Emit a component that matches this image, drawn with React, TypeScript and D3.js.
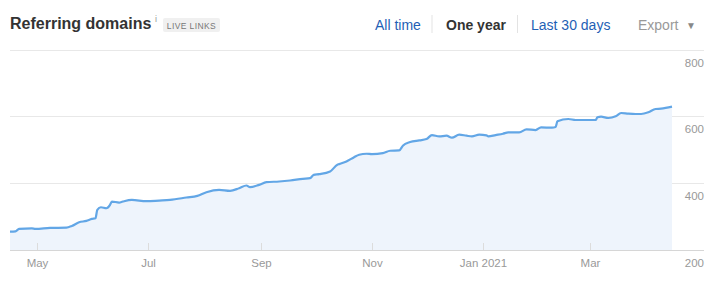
import React from "react";
import * as d3 from "d3";

const dates: string[] = [
  "2020-04-16","2020-04-19","2020-04-21","2020-04-28","2020-04-30","2020-05-08","2020-05-17","2020-05-20",
  "2020-05-24","2020-05-28","2020-05-31","2020-06-02","2020-06-03","2020-06-05","2020-06-08","2020-06-10",
  "2020-06-11","2020-06-15","2020-06-17","2020-06-22","2020-06-30","2020-07-07","2020-07-13","2020-07-22",
  "2020-07-28","2020-08-02","2020-08-09","2020-08-15","2020-08-20","2020-08-24","2020-08-26","2020-08-31",
  "2020-09-04","2020-09-11","2020-09-17","2020-09-24","2020-09-28","2020-09-30","2020-10-03","2020-10-09",
  "2020-10-13","2020-10-14","2020-10-18","2020-10-22","2020-10-25","2020-10-29","2020-11-01","2020-11-07",
  "2020-11-11","2020-11-16","2020-11-18","2020-11-22","2020-11-27","2020-12-01","2020-12-04","2020-12-08",
  "2020-12-12","2020-12-15","2020-12-19","2020-12-23","2020-12-26","2020-12-30","2021-01-03","2021-01-04",
  "2021-01-08","2021-01-12","2021-01-15","2021-01-21","2021-01-25","2021-01-30","2021-02-02","2021-02-08",
  "2021-02-10","2021-02-11","2021-02-17","2021-02-21","2021-02-28","2021-03-04","2021-03-05","2021-03-07",
  "2021-03-11","2021-03-15","2021-03-18","2021-03-22","2021-03-26","2021-03-29","2021-04-02","2021-04-06",
  "2021-04-09","2021-04-15",
];
const domains: number[] = [
  255,256,263,265,263,266,267,272,
  283,287,293,295,320,328,325,335,
  345,342,345,350,346,348,350,357,
  362,373,380,377,385,393,388,395,
  403,405,408,413,415,425,427,435,
  455,457,465,477,485,488,487,490,
  497,498,512,523,528,532,544,540,
  542,536,545,542,540,545,543,540,
  544,548,552,552,561,559,567,566,
  568,585,592,589,589,589,597,599,
  595,600,610,608,607,607,612,622,
  623,629,
];
const yTicks: number[] = [200, 400, 600, 800];
const xTickDates: string[] = ["2020-05-01", "2020-07-01", "2020-09-01", "2020-11-01", "2021-01-01", "2021-03-01"];
const xTickLabels: string[] = ["May", "Jul", "Sep", "Nov", "Jan 2021", "Mar"];

const W = 714, H = 282;
const FONT = "'Liberation Sans', Arial, sans-serif";

export default function App() {
  const parse = d3.timeParse("%Y-%m-%d");
  const data = dates.map((d, i) => ({ date: parse(d) as Date, value: domains[i] }));
  const x = d3.scaleTime()
    .domain([parse("2020-04-16") as Date, parse("2021-04-15") as Date])
    .range([10, 672]);
  const y = d3.scaleLinear().domain([200, 800]).range([250, 49.5]);

  const line = d3.line<{ date: Date; value: number }>()
    .x(d => x(d.date)).y(d => y(d.value)).curve(d3.curveMonotoneX);
  const area = d3.area<{ date: Date; value: number }>()
    .x(d => x(d.date)).y0(y(200)).y1(d => y(d.value)).curve(d3.curveMonotoneX);

  return (
    <svg width={W} height={H} style={{ position: "absolute", left: 0, top: 0, fontFamily: FONT }}>
      <rect width={W} height={H} fill="#fff" />
      {/* header */}
      <text x={10} y={29} fontSize={16} fontWeight="bold" fill="#333">Referring domains</text>
      <text x={155} y={22} fontSize={9} fill="#999">i</text>
      <rect x={163} y={18} width={57} height={14} rx={2} fill="#f0f0f0" />
      <text x={191.5} y={28.5} fontSize={8.5} fill="#777" textAnchor="middle" letterSpacing={0.4}>LIVE LINKS</text>

      <text x={375} y={30} fontSize={14} fill="#1f5fb5">All time</text>
      <line x1={432} x2={432} y1={15} y2={33} stroke="#e3e3e3" />
      <text x={446} y={30} fontSize={14} fontWeight="bold" fill="#333">One year</text>
      <line x1={517.5} x2={517.5} y1={15} y2={33} stroke="#e3e3e3" />
      <text x={531} y={30} fontSize={14} fill="#1f5fb5">Last 30 days</text>
      <text x={638} y={30} fontSize={14} fill="#999">Export</text>
      <text x={691} y={29} fontSize={10} fill="#888" textAnchor="middle">▼</text>

      {/* grid */}
      {yTicks.map(t => (
        <g key={t}>
          <line x1={10} x2={704} y1={Math.round(y(t)) + 0.5} y2={Math.round(y(t)) + 0.5}
            stroke={t === 200 ? "#d6d6d6" : "#e8e8e8"} />
          <text x={704} y={y(t) + 13} fontSize={11.5} fill="#999" textAnchor="end" dominantBaseline="central">{t}</text>
        </g>
      ))}

      {/* area + line */}
      <path d={area(data) || ""} fill="#eef4fc" />
      <path d={line(data) || ""} fill="none" stroke="#62a6e6" strokeWidth={2.2} strokeLinejoin="round" />

      {/* x ticks */}
      {xTickDates.map((d, i) => {
        const px = Math.round(x(parse(d) as Date)) + 0.5;
        return (
          <g key={d}>
            <line x1={px} x2={px} y1={243} y2={250} stroke="#dcdcdc" />
            <text x={px} y={263} fontSize={11.5} fill="#999" textAnchor="middle" dominantBaseline="central">{xTickLabels[i]}</text>
          </g>
        );
      })}
    </svg>
  );
}
